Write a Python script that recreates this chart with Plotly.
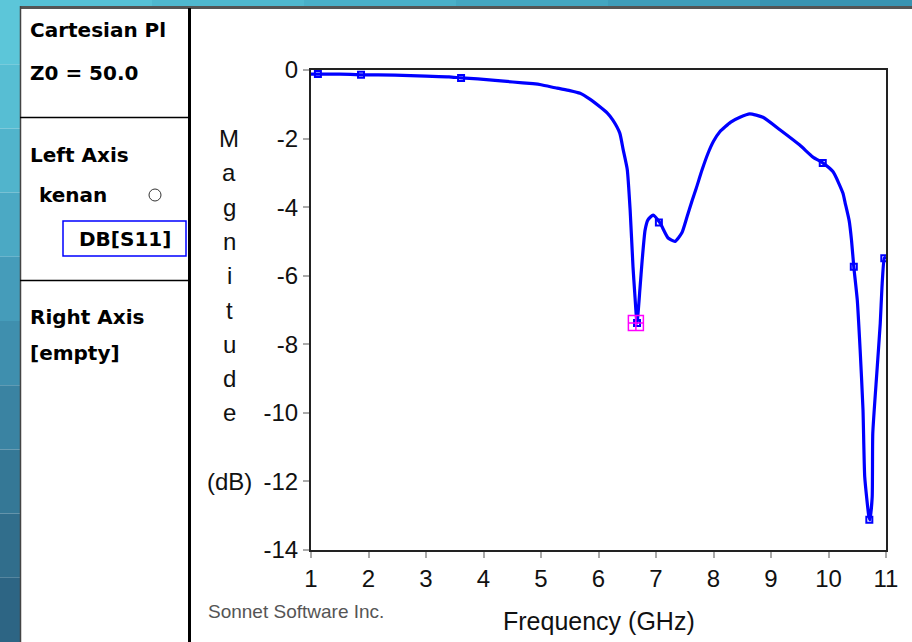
import plotly.graph_objects as go

# ---- data ----
freq_ghz = [1.0, 1.5, 1.87, 2.46, 3.0, 3.4, 3.61, 3.9, 4.2, 4.51, 4.86, 5.0, 5.28, 5.5,
            5.68, 5.85, 6.03, 6.15, 6.25, 6.37, 6.43, 6.5, 6.55, 6.6, 6.63, 6.67, 6.72,
            6.76, 6.81, 6.86, 6.95, 7.07, 7.21, 7.33, 7.45, 7.54, 7.63, 7.7, 7.8, 7.9,
            8.0, 8.11, 8.3, 8.46, 8.63, 8.86, 9.16, 9.5, 9.73, 9.9, 10.08, 10.25, 10.29,
            10.36, 10.4, 10.44, 10.5, 10.55, 10.6, 10.63, 10.7, 10.72, 10.76, 10.77,
            10.84, 10.9, 10.93, 10.97, 11.0]
db_s11 = [-0.12, -0.12, -0.14, -0.15, -0.18, -0.2, -0.23, -0.26, -0.3, -0.35, -0.4, -0.43,
          -0.53, -0.6, -0.68, -0.85, -1.08, -1.25, -1.46, -1.84, -2.33, -2.9, -4.08, -5.74,
          -6.5, -7.38, -6.4, -5.54, -4.67, -4.37, -4.23, -4.46, -4.9, -5.0, -4.75, -4.28,
          -3.8, -3.45, -2.92, -2.45, -2.08, -1.8, -1.52, -1.38, -1.28, -1.38, -1.75, -2.19,
          -2.54, -2.71, -2.97, -3.59, -3.88, -4.4, -4.96, -5.74, -6.7, -8.16, -9.91, -11.87,
          -13.0, -13.12, -12.45, -10.6, -8.85, -7.39, -6.33, -5.49, -5.45]

marker_freq = [1.12, 1.87, 3.61, 6.67, 7.05, 9.9, 10.44, 10.71, 10.97]
marker_db = [-0.12, -0.14, -0.23, -7.38, -4.45, -2.71, -5.74, -13.12, -5.49]

min_freq = [6.65]
min_db = [-7.38]

x_ticks = [1, 2, 3, 4, 5, 6, 7, 8, 9, 10, 11]
y_ticks = [0, -2, -4, -6, -8, -10, -12, -14]
y_letters = ["M", "a", "g", "n", "i", "t", "u", "d", "e"]

# ---- layout geometry (pixels) ----
W, H = 912, 642
L, R, T, B = 311, 886, 70, 550


def px(X):
    return (X - L) / (R - L)


def py(Y):
    return (B - Y) / (B - T)


fig = go.Figure()
fig.add_trace(go.Scatter(x=freq_ghz, y=db_s11, mode="lines",
                         line=dict(color="#0000ff", width=3.2, shape="spline", smoothing=0.5),
                         hoverinfo="skip"))
fig.add_trace(go.Scatter(x=marker_freq, y=marker_db, mode="markers",
                         marker=dict(symbol="square-open", size=6, color="#0000ff",
                                     line=dict(width=2, color="#0000ff"))))
fig.add_trace(go.Scatter(x=min_freq, y=min_db, mode="markers",
                         marker=dict(symbol="square-cross-open", size=15, color="#ff00ff",
                                     line=dict(width=1.5, color="#ff00ff"))))

shapes = []
# teal gradient background strips
top_cols = ["#56c1d6", "#4fb8cf", "#49afc8", "#43a6c1", "#3e9dba", "#3994b2"]
n = len(top_cols)
for i, c in enumerate(top_cols):
    shapes.append(dict(type="rect", xref="paper", yref="paper",
                       x0=px(W * i / n), x1=px(W * (i + 1) / n), y0=py(6), y1=py(0),
                       fillcolor=c, line=dict(width=0), layer="below"))
left_cols = ["#5cc6d9", "#57bed3", "#51b4cc", "#4ba9c4", "#459cba", "#3f8fae",
             "#3a83a2", "#357896", "#316e8c", "#2d6584"]
n = len(left_cols)
for i, c in enumerate(left_cols):
    shapes.append(dict(type="rect", xref="paper", yref="paper",
                       x0=px(0), x1=px(20), y0=py(H * i / n), y1=py(H * (i + 1) / n),
                       fillcolor=c, line=dict(width=0), layer="below"))
# window frame lines
shapes += [
    dict(type="line", xref="paper", yref="paper", x0=px(20), x1=px(W), y0=py(7.5), y1=py(7.5),
         line=dict(color="#555555", width=3)),
    dict(type="line", xref="paper", yref="paper", x0=px(20.5), x1=px(20.5), y0=py(6), y1=py(H),
         line=dict(color="#444444", width=1.5)),
    dict(type="line", xref="paper", yref="paper", x0=px(189.5), x1=px(189.5), y0=py(8), y1=py(H),
         line=dict(color="#000000", width=3)),
    dict(type="line", xref="paper", yref="paper", x0=px(20), x1=px(189), y0=py(117.5), y1=py(117.5),
         line=dict(color="#000000", width=1.5)),
    dict(type="line", xref="paper", yref="paper", x0=px(20), x1=px(189), y0=py(280.5), y1=py(280.5),
         line=dict(color="#000000", width=1.5)),
    dict(type="rect", xref="paper", yref="paper", x0=px(63), x1=px(186), y0=py(221), y1=py(256),
         line=dict(color="#0000ff", width=1.5)),
    dict(type="circle", xref="paper", yref="paper", x0=px(149), x1=px(161), y0=py(189), y1=py(201),
         line=dict(color="#333333", width=1)),
]

annotations = []
panel_font = dict(family="DejaVu Sans", size=20, color="#000000", weight="bold")
for text, X, Y in [("Cartesian Pl", 28, 30), ("Z0 = 50.0", 28, 73), ("Left Axis", 28, 155),
                   ("kenan", 37, 195), ("Right Axis", 28, 317), ("[empty]", 28, 353)]:
    annotations.append(dict(text=text, xref="paper", yref="paper", x=px(X), y=py(Y),
                            xanchor="left", yanchor="middle", showarrow=False, font=panel_font))
annotations.append(dict(text="DB[S11]", xref="paper", yref="paper", x=px(124.5), y=py(239),
                        xanchor="center", yanchor="middle", showarrow=False, font=panel_font))

axis_font = dict(family="Liberation Sans, Arial", size=24, color="#111111")
for i, ch in enumerate(y_letters):
    annotations.append(dict(text=ch, xref="paper", yref="y", x=px(229), y=-2 - i,
                            xanchor="center", yanchor="middle", showarrow=False, font=axis_font))
annotations.append(dict(text="(dB)", xref="paper", yref="y", x=px(229), y=-12,
                        xanchor="center", yanchor="middle", showarrow=False, font=axis_font))
annotations.append(dict(text="Sonnet Software Inc.", xref="paper", yref="paper",
                        x=px(206), y=py(611), xanchor="left", yanchor="middle", showarrow=False,
                        font=dict(family="Liberation Sans, Arial", size=19, color="#555555")))
annotations.append(dict(text="Frequency (GHz)", xref="paper", yref="paper",
                        x=px(599), y=py(621), xanchor="center", yanchor="middle", showarrow=False,
                        font=dict(family="Liberation Sans, Arial", size=25, color="#111111")))

fig.update_layout(
    width=W, height=H,
    margin=dict(l=L, r=W - R, t=T, b=H - B, pad=0),
    paper_bgcolor="#ffffff", plot_bgcolor="#ffffff",
    showlegend=False,
    shapes=shapes, annotations=annotations,
    xaxis=dict(range=[1, 11], tickvals=x_ticks, ticktext=[str(v) for v in x_ticks],
               showgrid=False, zeroline=False, showline=True, mirror=True,
               linecolor="#222222", linewidth=2, ticks="outside", ticklen=6,
               tickcolor="#aaaaaa", tickwidth=1.5, tickfont=axis_font, fixedrange=True),
    yaxis=dict(range=[-14, 0], tickvals=y_ticks, ticktext=[str(v) for v in y_ticks],
               showgrid=False, zeroline=False, showline=True, mirror=True,
               linecolor="#222222", linewidth=2, ticks="outside", ticklen=6,
               tickcolor="#aaaaaa", tickwidth=1.5, tickfont=axis_font, fixedrange=True),
)

fig.write_html("out.html", config={"displayModeBar": False},
               post_script="document.body.style.margin='0';document.body.style.overflow='hidden';")
